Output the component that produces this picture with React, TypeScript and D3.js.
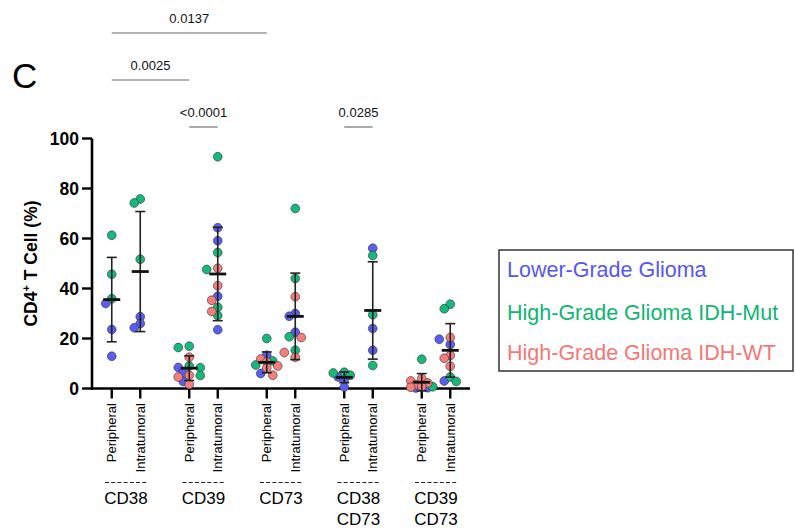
import React from "react"
import * as d3 from "d3"

// markers x site
const MARKERS = ["CD38", "CD39", "CD73", "CD38 CD73", "CD39 CD73"]
const SITES = ["Peripheral", "Intratumoral"]
const Y_TICKS = [0, 20, 40, 60, 80, 100]

// one entry per column: marker-major, Peripheral then Intratumoral
const lowerGrade = [
  [34.0, 23.6, 12.9],
  [28.7, 26.0, 24.3],
  [8.4, 6.5, 2.8],
  [64.3, 59.1, 36.9, 23.5],
  [13.3, 6.0],
  [30.0, 28.9, 22.5],
  [4.6, 3.6, 0.6],
  [56.1, 24.0, 15.3],
  [0.3, 0.2],
  [19.7, 17.6, 3.0],
]
const idhMut = [
  [61.3, 45.7, 35.9],
  [75.8, 74.2, 51.7],
  [16.4, 16.9, 9.0, 8.3, 5.2],
  [92.7, 54.4, 47.6, 32.5, 29.2],
  [20.0, 11.0, 9.4],
  [72.0, 44.0, 20.7, 15.3],
  [6.5, 6.2, 5.3],
  [53.2, 29.5, 9.2],
  [11.7, 0.7],
  [33.7, 31.9, 4.6, 2.8],
]
const idhWt = [
  [],
  [],
  [12.5, 5.3, 4.6, 1.6],
  [48.1, 41.1, 35.3, 30.8],
  [11.8, 10.6, 9.0, 8.2, 5.3],
  [36.7, 20.4, 14.4, 12.5],
  [],
  [],
  [4.0, 3.0, 2.2, 1.5, 0.8, 0.5],
  [20.4, 13.2, 12.1, 8.9],
]

const SERIES = [
  { name: "Lower-Grade Glioma", color: "#5b5cf2", text: "#5558ee", data: lowerGrade },
  { name: "High-Grade Glioma IDH-Mut", color: "#16b87c", text: "#0fb573", data: idhMut },
  { name: "High-Grade Glioma IDH-WT", color: "#f47d7d", text: "#f77777", data: idhWt },
]

// comparisons: [column a, column b, p label, level]
const COMPARISONS: [number, number, string, number][] = [
  [2, 3, "<0.0001", 0],
  [6, 7, "0.0285", 0],
  [0, 2, "0.0025", 1],
  [0, 4, "0.0137", 2],
]

const FONT = "'Liberation Sans', Arial, sans-serif"
const W = 795
const H = 532

const y = d3.scaleLinear().domain([0, 100]).range([388.5, 138.5])
const xGroup = d3.scaleBand().domain(MARKERS).range([87.25, 474.75]).padding(0)
const xSite = d3.scalePoint().domain(SITES).range([-14.25, 14.25])

function colX(i: number) {
  const g = MARKERS[Math.floor(i / 2)]
  return xGroup(g)! + xGroup.bandwidth() / 2 + xSite(SITES[i % 2])!
}

// simple beeswarm, dots may overlap a little like prism does
function swarm(col: number) {
  const pts: { v: number; color: string; dx: number }[] = []
  SERIES.forEach((s) => s.data[col].forEach((v) => pts.push({ v, color: s.color, dx: 0 })))
  const order = [...pts].sort((a, b) => b.v - a.v)
  const placed: { x: number; y: number }[] = []
  const offs = [0, -6, 6, -11, 11]
  order.forEach((p) => {
    const py = y(p.v)
    let best = 0
    let bestD = -1
    for (const off of offs) {
      const d = placed.length ? d3.min(placed, (q) => Math.hypot(q.x - off, q.y - py))! : 99
      if (d >= 6.5) {
        best = off
        bestD = 99
        break
      }
      if (d > bestD) {
        bestD = d
        best = off
      }
    }
    p.dx = best
    placed.push({ x: best, y: py })
  })
  return pts
}

export default function App() {
  const cols = d3.range(MARKERS.length * SITES.length)

  return (
    <svg
      width={W}
      height={H}
      style={{ position: "absolute", left: 0, top: 0, background: "#fff" }}
      fontFamily={FONT}
    >
      <text x={12} y={88} fontSize={35}>C</text>

      {/* significance lines */}
      {COMPARISONS.map(([a, b, lab, lvl]) => {
        const ly = 127 - lvl * 47
        return (
          <g key={lab}>
            <line x1={colX(a)} x2={colX(b)} y1={ly} y2={ly} stroke="#666" strokeWidth={1.1} />
            <text x={(colX(a) + colX(b)) / 2} y={ly - 10} fontSize={13} textAnchor="middle" fill="#111">
              {lab}
            </text>
          </g>
        )
      })}

      {/* y axis */}
      <line x1={92} x2={92} y1={y(100)} y2={y(0) + 1.2} stroke="#000" strokeWidth={2.6} />
      {Y_TICKS.map((t) => (
        <g key={t}>
          <line x1={82} x2={92} y1={y(t)} y2={y(t)} stroke="#000" strokeWidth={2.4} />
          <text x={79} y={y(t)} dy="0.36em" textAnchor="end" fontSize={17.5} fontWeight="bold">
            {t}
          </text>
        </g>
      ))}
      <text
        transform={`translate(37,${y(50)}) rotate(-90)`}
        textAnchor="middle"
        fontSize={17.5}
        fontWeight="bold"
      >
        CD4<tspan dy={-7} fontSize={11}>+</tspan>
        <tspan dy={7}> T Cell (%)</tspan>
      </text>

      {/* x axis */}
      <line x1={91} x2={470} y1={y(0)} y2={y(0)} stroke="#000" strokeWidth={2.6} />
      {cols.map((i) => (
        <g key={i}>
          <line x1={colX(i)} x2={colX(i)} y1={y(0)} y2={y(0) + 10} stroke="#000" strokeWidth={2.4} />
          <text
            transform={`translate(${colX(i) + 4.5},403) rotate(-90)`}
            textAnchor="end"
            fontSize={13}
          >
            {SITES[i % 2]}
          </text>
        </g>
      ))}
      {MARKERS.map((m) => {
        const cx = xGroup(m)! + xGroup.bandwidth() / 2
        return (
          <g key={m}>
            <line x1={cx - 21} x2={cx + 21} y1={482.5} y2={482.5} stroke="#222" strokeWidth={1.2} strokeDasharray="4,2.2" />
            {m.split(" ").map((w, j) => (
              <text key={w} x={cx} y={504 + j * 21} textAnchor="middle" fontSize={17}>
                {w}
              </text>
            ))}
          </g>
        )
      })}

      {/* dots, mean and SD */}
      {cols.map((i) => {
        const cx = colX(i)
        const pts = swarm(i)
        const vals = pts.map((p) => p.v)
        const m = d3.mean(vals)!
        const sd = d3.deviation(vals)!
        return (
          <g key={"c" + i}>
            {pts.map((p, j) => (
              <circle key={j} cx={cx + p.dx} cy={y(p.v)} r={4.4} fill={p.color} stroke="#333" strokeWidth={0.6} />
            ))}
            <line x1={cx} x2={cx} y1={y(m + sd)} y2={y(m - sd)} stroke="#222" strokeWidth={1.6} />
            <line x1={cx - 5} x2={cx + 5} y1={y(m + sd)} y2={y(m + sd)} stroke="#222" strokeWidth={1.6} />
            <line x1={cx - 5} x2={cx + 5} y1={y(m - sd)} y2={y(m - sd)} stroke="#222" strokeWidth={1.6} />
            <line x1={cx - 8.5} x2={cx + 8.5} y1={y(m)} y2={y(m)} stroke="#111" strokeWidth={2.8} />
          </g>
        )
      })}

      {/* legend */}
      <rect x={499} y={250} width={294} height={121} fill="#fff" stroke="#333" strokeWidth={1.5} />
      {SERIES.map((s, i) => (
        <text key={s.name} x={507} y={[277, 320, 360][i]} fontSize={21.5} fill={s.text}>
          {s.name}
        </text>
      ))}
    </svg>
  )
}
